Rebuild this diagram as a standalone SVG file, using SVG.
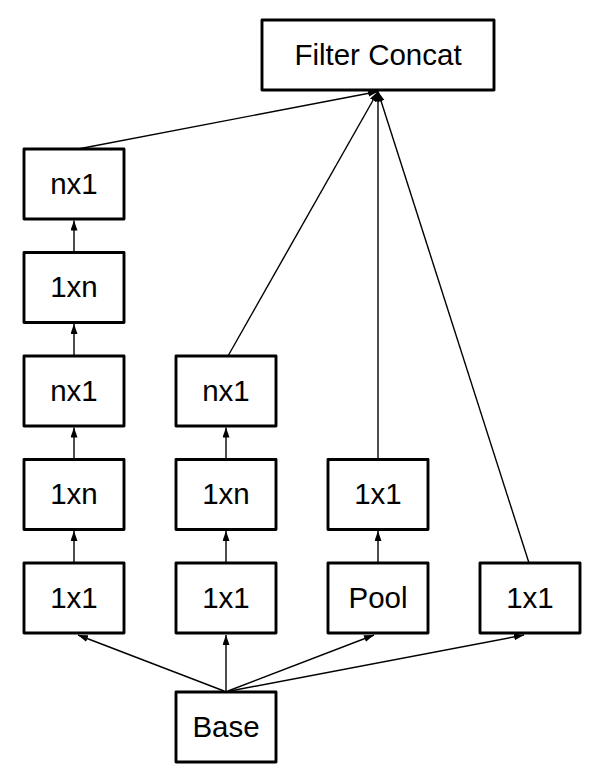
<svg xmlns="http://www.w3.org/2000/svg" width="591" height="778" viewBox="0 0 591 778">
<style>
.box{fill:#fff;stroke:#000;stroke-width:2.9;stroke-linejoin:round}
.lbl{font-family:"Liberation Sans",Arial,sans-serif;font-size:29.5px;fill:#000;text-anchor:middle}
.edge{stroke:#000;stroke-width:1.4;fill:none;marker-end:url(#arr)}
</style>
<defs>
<marker id="arr" markerUnits="userSpaceOnUse" markerWidth="11" markerHeight="8" refX="10" refY="3.5" orient="auto">
<path d="M0,0 L10,3.5 L0,7 z" fill="#000"/>
</marker>
</defs>
<rect width="591" height="778" fill="#fff"/>
<g id="connectors">
<line class="edge" x1="78" y1="149" x2="378" y2="91.5"/>
<line class="edge" x1="228" y1="356" x2="378" y2="91.5"/>
<line class="edge" x1="378" y1="459.5" x2="378" y2="91.5"/>
<line class="edge" x1="529" y1="563" x2="378" y2="91.5"/>
<line class="edge" x1="74" y1="563" x2="74" y2="531"/>
<line class="edge" x1="74" y1="459.5" x2="74" y2="427.5"/>
<line class="edge" x1="74" y1="356" x2="74" y2="324"/>
<line class="edge" x1="74" y1="252.5" x2="74" y2="220.5"/>
<line class="edge" x1="226" y1="563" x2="226" y2="531"/>
<line class="edge" x1="226" y1="459.5" x2="226" y2="427.5"/>
<line class="edge" x1="378" y1="563" x2="378" y2="531"/>
<line class="edge" x1="224" y1="691" x2="78" y2="635"/>
<line class="edge" x1="226" y1="691" x2="226" y2="635"/>
<line class="edge" x1="228" y1="691" x2="374" y2="635"/>
<line class="edge" x1="230" y1="691" x2="524" y2="635"/>
</g>
<g id="filter-concat"><rect class="box" x="262" y="20" width="232" height="70"/><text class="lbl" x="378" y="64.5">Filter Concat</text></g>
<g id="c1-nx1-top"><rect class="box" x="24" y="149" width="100" height="70"/><text class="lbl" x="74" y="193.5">nx1</text></g>
<g id="c1-1xn-top"><rect class="box" x="24" y="252.5" width="100" height="70"/><text class="lbl" x="74" y="297">1xn</text></g>
<g id="c1-nx1"><rect class="box" x="24" y="356" width="100" height="70"/><text class="lbl" x="74" y="400.5">nx1</text></g>
<g id="c1-1xn"><rect class="box" x="24" y="459.5" width="100" height="70"/><text class="lbl" x="74" y="504">1xn</text></g>
<g id="c1-1x1"><rect class="box" x="24" y="563" width="100" height="70"/><text class="lbl" x="74" y="607.5">1x1</text></g>
<g id="c2-nx1"><rect class="box" x="176" y="356" width="100" height="70"/><text class="lbl" x="226" y="400.5">nx1</text></g>
<g id="c2-1xn"><rect class="box" x="176" y="459.5" width="100" height="70"/><text class="lbl" x="226" y="504">1xn</text></g>
<g id="c2-1x1"><rect class="box" x="176" y="563" width="100" height="70"/><text class="lbl" x="226" y="607.5">1x1</text></g>
<g id="c3-1x1"><rect class="box" x="328" y="459.5" width="100" height="70"/><text class="lbl" x="378" y="504">1x1</text></g>
<g id="c3-pool"><rect class="box" x="328" y="563" width="100" height="70"/><text class="lbl" x="378" y="607.5">Pool</text></g>
<g id="c4-1x1"><rect class="box" x="480" y="563" width="100" height="70"/><text class="lbl" x="530" y="607.5">1x1</text></g>
<g id="base"><rect class="box" x="176" y="692" width="100" height="70"/><text class="lbl" x="226" y="736.5">Base</text></g>
</svg>
